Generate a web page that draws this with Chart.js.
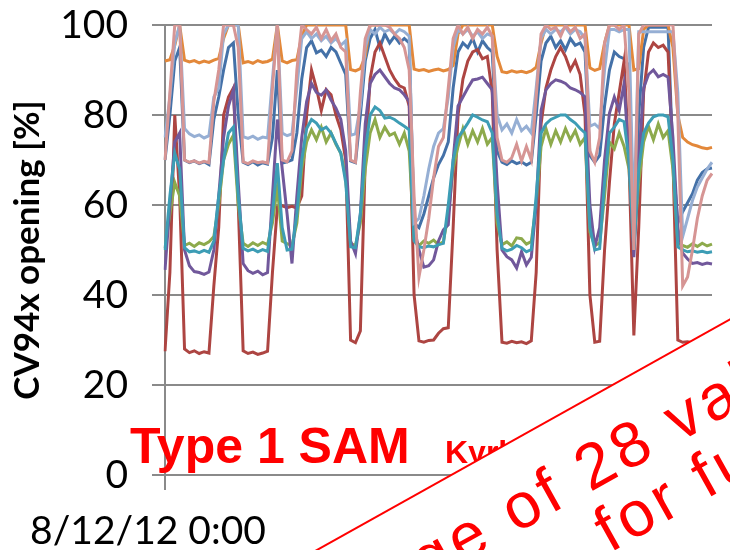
<!DOCTYPE html>
<html>
<head>
<meta charset="utf-8">
<script src="https://cdn.jsdelivr.net/npm/chart.js@4.4.0/dist/chart.umd.min.js"></script>
<style>
  html, body { margin: 0; padding: 0; background: #fff; }
</style>
</head>
<body>
<canvas id="myChart" width="730" height="550"></canvas>
<script>
// hourly samples starting 8/12/12 0:00
var startTime = new Date(2012, 7, 12, 0, 0);
var timeLabels = [];
for (var h = 0; h <= 112; h++) {
    var d = new Date(startTime.getTime() + h * 3600000);
    timeLabels.push((d.getMonth() + 1) + '/' + d.getDate() + '/' + String(d.getFullYear()).slice(2) +
        ' ' + d.getHours() + ':' + String(d.getMinutes()).padStart(2, '0'));
}

// valve openings [%], one value per hour
var valveOrange = [
    92.0, 92.3, 95.5, 100, 92.2, 91.8, 92.1, 91.6, 92.0, 91.7,
    92.2, 92.6, 97.0, 100, 100, 100, 91.6, 91.9, 91.5, 92.1,
    91.7, 91.9, 92.4, 100, 92.0, 91.6, 92.1, 92.3, 97.5, 100,
    100, 100, 100, 100, 100, 100, 100, 100, 90.1, 89.8,
    90.3, 93.0, 100, 100, 100, 100, 100, 100, 100, 100,
    100, 90.2, 89.9, 90.1, 89.7, 90.0, 90.2, 89.8, 90.1, 91.0,
    98.0, 100, 100, 100, 100, 100, 100, 100, 93.0, 89.6,
    89.4, 89.8, 89.5, 89.7, 89.4, 89.8, 90.6, 96.0, 100, 100,
    100, 100, 100, 100, 100, 100, 100, 90.5, 89.9, 90.3,
    96.0, 100, 100, 100, 100, 100, 90.0, 90.3, 99.0, 100,
    100, 100, 100, 100, 95.0, 80.0, 75.0, 74.0, 73.4, 73.1,
    72.7, 72.5, 72.8
];
var valveLightBlue = [
    75.0, 84.0, 96.0, 100, 77.0, 75.8, 75.2, 75.6, 74.9, 75.4,
    84.0, 86.0, 98.0, 100, 100, 100, 75.2, 74.8, 75.3, 74.6,
    75.1, 74.9, 88.0, 100, 76.0, 75.4, 75.8, 86.0, 97.0, 98.5,
    97.0, 98.0, 96.5, 97.5, 96.0, 97.0, 95.5, 96.5, 75.5, 75.8,
    82.0, 95.0, 99.0, 98.0, 99.5, 98.5, 99.0, 98.0, 99.0, 98.5,
    97.5, 56.0, 57.0, 62.0, 68.0, 73.0, 76.0, 77.0, 84.0, 95.0,
    99.0, 98.0, 99.0, 97.5, 98.5, 97.0, 98.0, 97.5, 80.0, 76.7,
    78.0, 76.0, 79.0, 76.5, 77.5, 76.0, 86.0, 97.0, 99.0, 98.0,
    99.0, 98.5, 99.5, 98.0, 99.0, 98.5, 97.0, 77.5, 78.0, 77.0,
    90.0, 99.0, 99.0, 98.5, 99.0, 99.0, 56.0, 98.5, 98.5, 98.5,
    98.5, 98.5, 98.5, 98.5, 98.5, 85.0, 53.0, 57.0, 61.0, 64.0,
    66.0, 68.0, 69.5
];
var valveBlue = [
    70.0, 80.0, 92.0, 95.0, 70.0, 69.4, 69.8, 69.2, 69.6, 69.0,
    79.0, 84.0, 90.0, 95.0, 96.0, 80.0, 69.5, 69.0, 69.6, 68.9,
    69.4, 69.1, 75.0, 90.0, 69.3, 69.6, 70.0, 76.0, 88.0, 95.0,
    96.5, 93.8, 94.4, 93.0, 95.0, 94.0, 91.5, 89.0, 69.8, 69.4,
    80.0, 92.0, 97.0, 99.0, 95.0, 98.0, 96.0, 97.5, 96.0, 97.0,
    96.0, 56.0, 55.0, 58.0, 62.0, 66.0, 69.0, 71.0, 74.0, 86.0,
    94.0, 96.0, 95.0, 97.0, 94.0, 96.5, 95.0, 94.0, 72.0, 69.5,
    69.0, 69.8, 69.2, 69.6, 68.9, 69.5, 80.0, 92.0, 96.0, 97.5,
    95.0, 96.5, 94.5, 97.0, 95.5, 96.0, 94.0, 71.0, 69.5, 71.0,
    82.0, 90.0, 94.0, 93.0, 92.5, 91.0, 52.0, 80.0, 95.0, 99.5,
    99.5, 99.5, 99.5, 99.5, 70.0, 56.0, 58.5, 60.5, 62.5, 65.5,
    67.2, 68.0, 68.2
];
var valvePink = [
    70.0, 85.0, 100, 100, 70.0, 69.5, 69.8, 69.3, 69.7, 69.4,
    83.0, 90.0, 100, 100, 100, 95.0, 69.6, 69.2, 69.8, 69.4,
    69.6, 69.3, 86.0, 100, 70.0, 69.6, 72.0, 90.0, 100, 99.0,
    98.0, 99.5, 97.0, 99.0, 96.5, 98.0, 95.0, 94.0, 70.0, 69.5,
    85.0, 97.0, 100, 100, 100, 100, 99.5, 98.0, 97.0, 95.0,
    90.0, 62.0, 44.0, 50.0, 57.0, 66.0, 73.0, 75.0, 86.0, 97.0,
    100, 98.0, 99.5, 97.0, 99.0, 98.0, 99.5, 97.5, 75.0, 70.0,
    69.5, 70.5, 73.5, 69.8, 73.0, 70.0, 84.0, 98.0, 100, 99.0,
    99.5, 97.5, 100, 98.5, 99.5, 97.0, 98.0, 72.0, 69.5, 75.0,
    96.0, 100, 100, 99.0, 100, 85.0, 50.0, 98.0, 100, 100,
    100, 100, 100, 100, 100, 80.0, 42.0, 44.0, 50.0, 57.0,
    62.0, 65.5, 67.0
];
var valveRed = [
    27.5, 45.0, 80.0, 62.0, 28.0, 27.2, 27.6, 27.0, 27.4, 27.1,
    42.0, 55.0, 80.0, 84.0, 86.0, 60.0, 27.6, 27.0, 27.3, 26.8,
    27.1, 27.5, 45.0, 59.5, 59.8, 59.4, 59.7, 59.3, 62.0, 80.0,
    90.0, 86.0, 81.0, 85.6, 84.5, 80.0, 76.7, 70.0, 30.0, 29.4,
    32.0, 70.0, 88.0, 94.0, 96.0, 93.0, 90.0, 88.0, 86.5, 86.0,
    82.0, 40.0, 29.8, 29.5, 29.9, 30.0, 31.5, 32.5, 32.7, 55.0,
    80.0, 88.0, 92.0, 94.0, 94.5, 92.5, 93.0, 85.0, 50.0, 29.5,
    29.3, 29.7, 29.4, 29.6, 29.2, 29.8, 45.0, 78.0, 86.0, 90.0,
    93.0, 95.0, 93.0, 90.0, 92.0, 89.0, 80.0, 40.0, 29.5, 29.7,
    50.0, 65.0, 78.0, 85.0, 92.0, 70.0, 31.0, 55.0, 85.0, 94.0,
    96.0, 95.0, 95.5, 94.0, 70.0, 30.0, 29.5, 29.6, 29.4, 29.7,
    29.5, 29.6, 29.4
];
var valvePurple = [
    45.6, 60.0, 74.0, 76.0, 50.0, 46.5, 45.2, 45.0, 44.6, 45.1,
    50.0, 62.0, 75.0, 82.0, 85.6, 65.0, 47.0, 45.4, 44.8, 45.3,
    44.5, 45.0, 62.0, 79.0, 68.0, 58.0, 47.0, 62.0, 75.0, 83.0,
    87.0, 85.0, 84.4, 85.6, 83.3, 81.5, 79.0, 72.0, 52.0, 49.2,
    58.0, 78.0, 87.0, 89.0, 90.0, 88.5, 87.0, 86.0, 85.6, 84.5,
    83.0, 55.0, 50.0, 46.2, 46.5, 47.8, 52.0, 54.5, 55.6, 70.0,
    82.0, 84.0, 86.0, 87.8, 88.0, 88.4, 87.0, 85.6, 65.0, 50.0,
    48.5, 47.8, 46.0, 49.6, 46.7, 48.4, 60.0, 81.0, 85.6, 87.0,
    87.8, 87.5, 87.0, 86.0, 85.6, 85.0, 84.0, 60.0, 50.7, 55.0,
    70.0, 80.4, 84.0, 81.0, 87.0, 70.0, 48.4, 70.0, 86.0, 89.0,
    90.0, 88.5, 89.0, 88.4, 75.0, 55.0, 49.3, 48.0, 47.0, 47.2,
    46.8, 47.1, 46.9
];
var valveAqua = [
    50.0, 62.0, 71.5, 68.0, 50.5, 49.6, 49.8, 49.4, 49.9, 49.5,
    52.0, 62.0, 70.0, 76.0, 77.3, 62.0, 50.4, 49.8, 50.2, 49.6,
    50.1, 49.7, 58.0, 69.3, 55.0, 50.0, 50.2, 58.0, 70.0, 77.0,
    79.0, 78.2, 76.7, 77.3, 76.0, 73.7, 71.5, 65.0, 50.7, 50.5,
    58.0, 72.0, 80.0, 81.8, 81.0, 79.3, 79.5, 79.0, 78.2, 77.5,
    76.7, 52.0, 50.7, 50.5, 50.9, 50.7, 51.2, 51.5, 60.0, 70.0,
    75.0, 76.5, 78.2, 80.0, 79.5, 78.9, 78.5, 76.0, 58.0, 50.4,
    49.8, 50.2, 51.0, 50.5, 49.6, 50.1, 62.0, 76.0, 78.0, 79.0,
    79.5, 80.0, 80.0, 79.0, 78.2, 77.0, 76.0, 55.0, 50.0, 50.3,
    65.0, 76.0, 77.3, 79.0, 78.5, 70.0, 50.0, 68.0, 76.0, 78.2,
    79.6, 80.0, 80.0, 79.6, 70.0, 50.7, 50.0, 49.6, 49.8, 49.5,
    49.7, 49.4, 49.6
];
var valveGreen = [
    50.4, 58.0, 65.0, 62.0, 51.0, 51.5, 50.8, 51.6, 51.2, 51.8,
    53.0, 60.0, 70.0, 73.5, 75.5, 60.0, 51.5, 50.8, 51.6, 51.0,
    51.7, 51.2, 56.0, 64.0, 52.0, 51.4, 51.0, 56.0, 68.0, 74.0,
    76.7, 74.5, 77.3, 74.0, 76.0, 73.5, 71.5, 66.0, 51.5, 51.0,
    56.0, 68.0, 76.0, 79.0, 75.0, 77.3, 75.5, 76.0, 73.5, 76.0,
    72.0, 52.5, 51.0, 52.0, 51.5, 52.2, 51.2, 51.8, 58.0, 68.0,
    73.0, 77.0, 73.5, 76.5, 74.0, 77.0, 73.5, 75.0, 56.0, 51.2,
    51.8, 50.9, 52.7, 52.5, 51.3, 51.9, 60.0, 73.0, 77.0, 73.5,
    76.5, 74.0, 77.0, 74.5, 76.5, 73.5, 75.0, 54.0, 51.0, 51.6,
    62.0, 74.0, 72.5, 76.0, 73.0, 68.0, 51.0, 65.0, 74.0, 77.5,
    74.5, 78.0, 75.0, 76.5, 68.0, 51.5, 51.0, 50.6, 51.4, 50.8,
    51.5, 50.9, 51.3
];
var yTicks = [0, 20, 40, 60, 80, 100];

var gridGray = '#8a8a8a';
var tickFont = { family: 'Lato', size: 39 };

function valveLine(values, color) {
    return {
        data: values,
        borderColor: color,
        borderWidth: 3,
        pointRadius: 0,
        tension: 0,
        fill: false
    };
}

// red slide captions and the rotated note box drawn over the plot
var slideText = {
    id: 'slideText',
    afterDraw: function (chart) {
        var c = chart.ctx;
        c.save();
        c.fillStyle = '#ff0000';
        c.textAlign = 'left';
        c.textBaseline = 'alphabetic';
        c.font = 'bold 50px "Liberation Sans"';
        c.fillText('Type 1 SAM', 130, 463);
        c.font = 'bold 32px "Liberation Sans"';
        c.fillText('Kyrksæterøra', 445, 463);

        c.translate(320, 548.3);
        c.rotate(Math.atan2(-229, 410));
        c.fillStyle = '#ffffff';
        c.fillRect(-60, 0, 900, 400);
        c.strokeStyle = '#ff0000';
        c.lineWidth = 2;
        c.beginPath();
        c.moveTo(-60, 0);
        c.lineTo(900, 0);
        c.stroke();
        c.fillStyle = '#ff0000';
        c.font = '64px "Liberation Sans"';
        c.letterSpacing = '4.5px';
        c.fillText('Average of 28 valves', 263 - c.measureText('Average of ').width, 82.6);
        c.fillText('See notes  for full list', 251 - c.measureText('See notes  ').width, 145.5);
        c.restore();
    }
};

var ctx = document.getElementById('myChart').getContext('2d');

var myChart = new Chart(ctx, {
    type: 'line',
    data: {
        labels: timeLabels,
        // first dataset ends up on top
        datasets: [
            valveLine(valvePink, '#d69594'),
            valveLine(valveLightBlue, '#96afd4'),
            valveLine(valveOrange, '#e3883a'),
            valveLine(valveAqua, '#3d9db5'),
            valveLine(valvePurple, '#71589b'),
            valveLine(valveGreen, '#8daa4c'),
            valveLine(valveRed, '#ad4542'),
            valveLine(valveBlue, '#4471a8')
        ]
    },
    options: {
        responsive: false,
        animation: false,
        layout: { padding: { top: 25, right: 5, left: 0, bottom: 0 } },
        plugins: {
            legend: { display: false },
            tooltip: { enabled: false }
        },
        scales: {
            x: {
                type: 'category',
                offset: false,
                border: { display: true, color: gridGray, width: 2 },
                grid: {
                    drawOnChartArea: false,
                    tickLength: 15,
                    lineWidth: 2,
                    color: function (c) { return c.index === 0 ? gridGray : 'rgba(0,0,0,0)'; }
                },
                ticks: {
                    autoSkip: false,
                    maxRotation: 0,
                    padding: 18,
                    labelOffset: -17,
                    color: '#000',
                    font: tickFont,
                    callback: function (v, i) { return i === 0 ? timeLabels[0] : ''; }
                },
                afterFit: function (s) { s.height = 75; }
            },
            y: {
                min: 0,
                max: 100,
                afterBuildTicks: function (s) { s.ticks = yTicks.map(function (v) { return { value: v }; }); },
                border: { color: gridGray, width: 2 },
                grid: { color: gridGray, lineWidth: 2, tickLength: 13 },
                ticks: { padding: 24, color: '#000', font: tickFont },
                title: {
                    display: true,
                    text: 'CV94x opening [%]',
                    color: '#000',
                    font: { family: 'Lato', size: 35, weight: 'bold' },
                    padding: { top: 7, bottom: 0 }
                },
                afterFit: function (s) {
                    s.width = 165;
                    s.paddingTop = 0;
                    s.paddingBottom = 0;
                }
            }
        }
    },
    plugins: [slideText]
});
</script>
</body>
</html>
